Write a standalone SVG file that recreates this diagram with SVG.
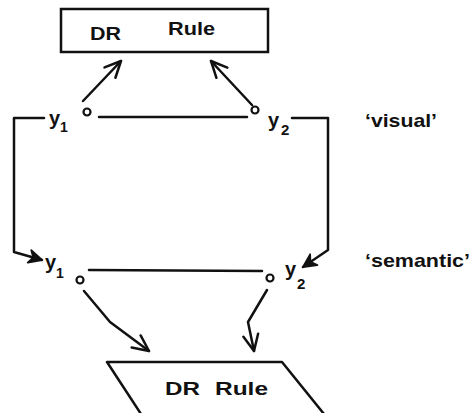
<svg xmlns="http://www.w3.org/2000/svg" width="476" height="413" viewBox="0 0 476 413">
<style>
.ln{fill:none;stroke:#111;stroke-width:2.5;stroke-linecap:round;stroke-linejoin:round}
.t{font-family:"Liberation Sans",Arial,sans-serif;font-weight:bold;fill:#111}
.c{fill:#fff;stroke:#111;stroke-width:2.2}
</style>
<defs>
<marker id="open" markerUnits="userSpaceOnUse" markerWidth="34" markerHeight="34" refX="0" refY="0" viewBox="-22 -17 34 34" orient="auto">
<path d="M-16,-7.5 L0,0 L-16,7.5" fill="none" stroke="#111" stroke-width="2.5" stroke-linecap="round" stroke-linejoin="round"/>
</marker>
<marker id="solid" markerUnits="userSpaceOnUse" markerWidth="34" markerHeight="34" refX="0" refY="0" viewBox="-22 -17 34 34" orient="auto">
<path d="M-13,-6.5 L0,0 L-13,6.5 L-9,0 Z" fill="#111" stroke="#111" stroke-width="1.8" stroke-linejoin="round"/>
</marker>
</defs>
<rect width="476" height="413" fill="#fff"/>
<g id="connectors">
<path class="ln" d="M83,101 L121,61" marker-end="url(#open)"/>
<path class="ln" d="M252,105 L211,61" marker-end="url(#open)"/>
<path class="ln" d="M99,117 L247,117"/>
<path class="ln" d="M44,118 L14,118 L14,252 L42,260" marker-end="url(#solid)"/>
<path class="ln" d="M292,118 L328,118 L328,250 L303,267" marker-end="url(#solid)"/>
<path class="ln" d="M89,270 L262,271"/>
<path class="ln" d="M84,291 L110,322 L149,351" marker-end="url(#open)"/>
<path class="ln" d="M267,290 L248,322 L254,351" marker-end="url(#open)"/>
</g>
<g id="rule-top">
<rect x="61" y="9" width="207" height="43" fill="#fff" stroke="#111" stroke-width="2.5"/>
<text class="t" x="90" y="40" font-size="19" textLength="31" lengthAdjust="spacingAndGlyphs">DR</text>
<text class="t" x="168" y="35" font-size="19" textLength="47" lengthAdjust="spacingAndGlyphs">Rule</text>
</g>
<g id="visual-y1">
<circle class="c" cx="87" cy="112" r="3.5"/>
<text class="t" x="49" y="125" font-size="20">y</text>
<text class="t" x="60" y="132" font-size="14">1</text>
</g>
<g id="visual-y2">
<circle class="c" cx="255" cy="110" r="3.5"/>
<text class="t" x="268" y="127" font-size="20">y</text>
<text class="t" x="281" y="135" font-size="15">2</text>
</g>
<g id="semantic-y1">
<circle class="c" cx="80" cy="280" r="3.5"/>
<text class="t" x="45" y="269" font-size="20">y</text>
<text class="t" x="56" y="278" font-size="14">1</text>
</g>
<g id="semantic-y2">
<circle class="c" cx="270" cy="278" r="3.5"/>
<text class="t" x="285" y="276" font-size="20">y</text>
<text class="t" x="297" y="289" font-size="15">2</text>
</g>
<g id="rule-bottom">
<path class="ln" d="M141,414 L107,362 L282,362 L324,414"/>
<text class="t" x="165" y="395" font-size="19" textLength="35" lengthAdjust="spacingAndGlyphs">DR</text>
<text class="t" x="215" y="395" font-size="19" textLength="53" lengthAdjust="spacingAndGlyphs">Rule</text>
</g>
<g id="labels">
<text class="t" x="365" y="127" font-size="19" textLength="72" lengthAdjust="spacingAndGlyphs">‘visual’</text>
<text class="t" x="365" y="267" font-size="19" textLength="105" lengthAdjust="spacingAndGlyphs">‘semantic’</text>
</g>
</svg>
